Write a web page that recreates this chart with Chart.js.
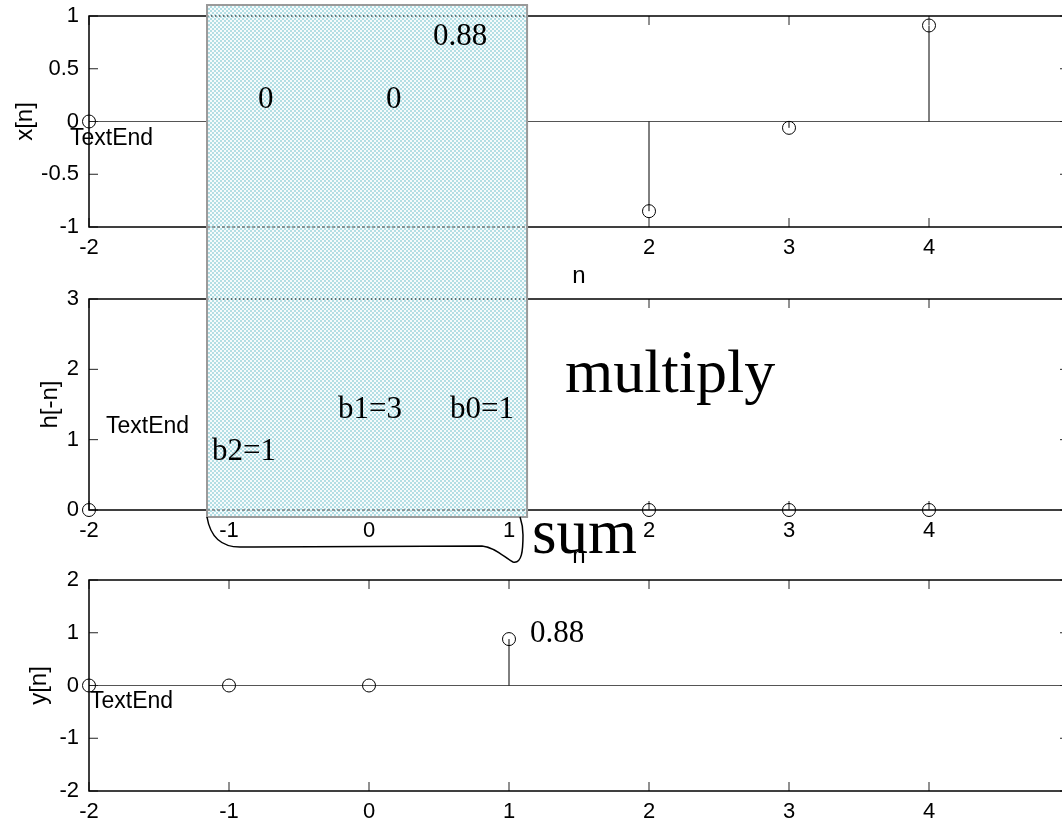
<!DOCTYPE html>
<html>
<head>
<meta charset="utf-8">
<script src="https://cdn.jsdelivr.net/npm/chart.js@4.4.1/dist/chart.umd.min.js"></script>
<style>
  html, body { margin: 0; padding: 0; background: #fff; overflow: hidden; width: 1062px; height: 822px; }
  canvas { position: absolute; left: 0; }
  #c1 { top: 0; }
  #c2 { top: 284px; }
  #c3 { top: 564px; }
  #notes { position: absolute; left: 0; top: 0; width: 1062px; height: 822px; pointer-events: none; }
  .serif { font-family: "Liberation Serif", "Times New Roman", serif; fill: #000; }
  .sans { font-family: "Liberation Sans", Arial, sans-serif; fill: #000; }
</style>
</head>
<body>
<canvas id="c1" width="1080" height="292"></canvas>
<canvas id="c2" width="1080" height="288"></canvas>
<canvas id="c3" width="1080" height="258"></canvas>
<svg id="notes" width="1062" height="822">
  <text class="serif" x="258" y="108" font-size="31">0</text>
  <text class="serif" x="386" y="108" font-size="31">0</text>
  <text class="serif" x="433" y="45" font-size="31">0.88</text>
  <text class="sans" x="70" y="145" font-size="23">TextEnd</text>
  <text class="sans" x="106" y="433" font-size="23">TextEnd</text>
  <text class="serif" x="212" y="460" font-size="31">b2=1</text>
  <text class="serif" x="338" y="418" font-size="31">b1=3</text>
  <text class="serif" x="450" y="418" font-size="31">b0=1</text>
  <text class="serif" x="565" y="392" font-size="62">multiply</text>
  <text class="serif" x="532" y="553" font-size="63">sum</text>
  <text class="serif" x="530" y="642" font-size="31">0.88</text>
  <text class="sans" x="90" y="708" font-size="23">TextEnd</text>
  <path d="M207,517 C210,535 220,547 240,547 L482,546 C495,547 505,558 513,562 C522,564 523,550 523,535 C523,525 521,520 520,517"
        fill="none" stroke="#000" stroke-width="1.5"/>
</svg>
<script>
// sample index shared by all three panels
const nTicks = [-2, -1, 0, 1, 2, 3, 4, 5];

// x[n] (samples under the shaded window are not visible)
const xN = [-2, 2, 3, 4];
const xVals = [0, -0.85, -0.06, 0.91];
const xYTicks = [-1, -0.5, 0, 0.5, 1];

// h[-n]
const hN = [-2, 2, 3, 4];
const hVals = [0, 0, 0, 0];
const hYTicks = [0, 1, 2, 3];

// y[n]
const yN = [-2, -1, 0, 1];
const yVals = [0, 0, 0, 0.88];
const yYTicks = [-2, -1, 0, 1, 2];

// shaded window, in n units
const windowFrom = -1.157;
const windowTo = 1.129;

function tilePattern(ctx) {
  const t = document.createElement('canvas');
  t.width = 4; t.height = 4;
  const g = t.getContext('2d');
  g.fillStyle = '#b3dee4';
  g.fillRect(0, 0, 4, 4);
  g.fillStyle = '#f6fbfc';
  g.fillRect(2, 0, 2, 2);
  g.fillRect(0, 2, 2, 2);
  return ctx.createPattern(t, 'repeat');
}

function seg(ctx, x1, y1, x2, y2) {
  ctx.beginPath();
  ctx.moveTo(x1, y1);
  ctx.lineTo(x2, y2);
  ctx.stroke();
}

const stemPlugin = {
  id: 'stems',
  beforeDatasetsDraw(chart) {
    const {ctx, chartArea: a, scales: {x, y}} = chart;
    const z = y.getPixelForValue(0);
    ctx.save();
    ctx.lineWidth = 1;
    if (z > a.top + 1 && z < a.bottom - 1) {
      ctx.strokeStyle = '#555';
      seg(ctx, a.left, z, a.right, z);
    }
    ctx.strokeStyle = '#000';
    chart.getDatasetMeta(0).data.forEach(p => seg(ctx, p.x, z, p.x, p.y));
    // inward tick marks
    ctx.strokeStyle = '#222';
    x.ticks.forEach(t => {
      const px = x.getPixelForValue(t.value);
      seg(ctx, px, a.top, px, a.top + 9);
      seg(ctx, px, a.bottom, px, a.bottom - 9);
    });
    y.ticks.forEach(t => {
      const py = y.getPixelForValue(t.value);
      seg(ctx, a.left, py, a.left + 9, py);
      seg(ctx, a.right, py, a.right - 9, py);
    });
    // box
    ctx.strokeStyle = '#000';
    ctx.lineWidth = 1.5;
    ctx.strokeRect(a.left, a.top, a.right - a.left, a.bottom - a.top);
    ctx.restore();
  },
  afterDraw(chart, args, opts) {
    if (!opts.shade) return;
    const {ctx, chartArea: a, scales: {x}} = chart;
    const x0 = x.getPixelForValue(windowFrom);
    const x1 = x.getPixelForValue(windowTo);
    const top = opts.top != null ? opts.top : 0;
    const bottom = opts.below != null ? a.bottom + opts.below : chart.height;
    ctx.save();
    ctx.fillStyle = tilePattern(ctx);
    ctx.fillRect(x0, top, x1 - x0, bottom - top);
    // frame lines seen through the window
    ctx.lineWidth = 1;
    ctx.strokeStyle = '#000';
    ctx.setLineDash([1.5, 2.5]);
    seg(ctx, x0, a.top, x1, a.top);
    ctx.strokeStyle = '#444';
    ctx.setLineDash([3, 2]);
    seg(ctx, x0, a.bottom, x1, a.bottom);
    ctx.setLineDash([]);
    // window border
    ctx.strokeStyle = '#9a9a9a';
    ctx.lineWidth = 2;
    seg(ctx, x0, top, x0, bottom);
    seg(ctx, x1, top, x1, bottom);
    if (opts.top != null) seg(ctx, x0 - 1, top, x1 + 1, top);
    if (opts.below != null) seg(ctx, x0 - 1, bottom, x1 + 1, bottom);
    ctx.restore();
  }
};

const tickFont = {family: '"Liberation Sans", Arial, sans-serif', size: 22};
const titleFont = {family: '"Liberation Sans", Arial, sans-serif', size: 24};

function stemChart(id, ns, vals, yTicks, cfg) {
  return new Chart(document.getElementById(id), {
    type: 'scatter',
    data: {
      datasets: [{
        data: ns.map((n, i) => ({x: n, y: vals[i]})),
        showLine: false,
        pointRadius: 6.5,
        pointHoverRadius: 6.5,
        pointBorderWidth: 1,
        borderColor: '#000',
        backgroundColor: 'rgba(0,0,0,0)',
        clip: false
      }]
    },
    options: {
      responsive: false,
      animation: false,
      events: [],
      layout: {padding: {left: 0, right: 11, top: cfg.padTop, bottom: 0}},
      plugins: {
        legend: {display: false},
        tooltip: {enabled: false},
        stems: cfg.shade || {}
      },
      scales: {
        x: {
          type: 'linear',
          min: -2, max: 5,
          grid: {display: false, drawTicks: false},
          border: {display: false},
          ticks: {font: tickFont, color: '#000', padding: 8, maxRotation: 0, autoSkip: false,
                  callback: v => String(v)},
          title: {display: cfg.xTitle, text: 'n', font: titleFont, color: '#000', padding: {top: 0, bottom: 1}},
          afterBuildTicks: s => { s.ticks = nTicks.map(v => ({value: v})); },
          afterFit: s => { s.height = cfg.xHeight; s.paddingLeft = 0; s.paddingRight = 0; }
        },
        y: {
          type: 'linear',
          min: yTicks[0], max: yTicks[yTicks.length - 1],
          grid: {display: false, drawTicks: false},
          border: {display: false},
          ticks: {font: tickFont, color: '#000', padding: 10, callback: v => String(v)},
          title: {display: true, text: cfg.yTitle, font: titleFont, color: '#000', padding: {top: cfg.titlePad, bottom: 0}},
          afterBuildTicks: s => { s.ticks = yTicks.map(v => ({value: v})); },
          afterFit: s => { s.width = 89; s.paddingTop = 0; s.paddingBottom = 0; }
        }
      }
    },
    plugins: [stemPlugin]
  });
}

stemChart('c1', xN, xVals, xYTicks, {
  padTop: 16, xHeight: 65, xTitle: true, yTitle: 'x[n]', titlePad: 11,
  shade: {shade: true, top: 5}
});
stemChart('c2', hN, hVals, hYTicks, {
  padTop: 15, xHeight: 62, xTitle: true, yTitle: 'h[-n]', titlePad: 36,
  shade: {shade: true, below: 7}
});
stemChart('c3', yN, yVals, yYTicks, {
  padTop: 16, xHeight: 31, xTitle: false, yTitle: 'y[n]', titlePad: 25
});
</script>
</body>
</html>
